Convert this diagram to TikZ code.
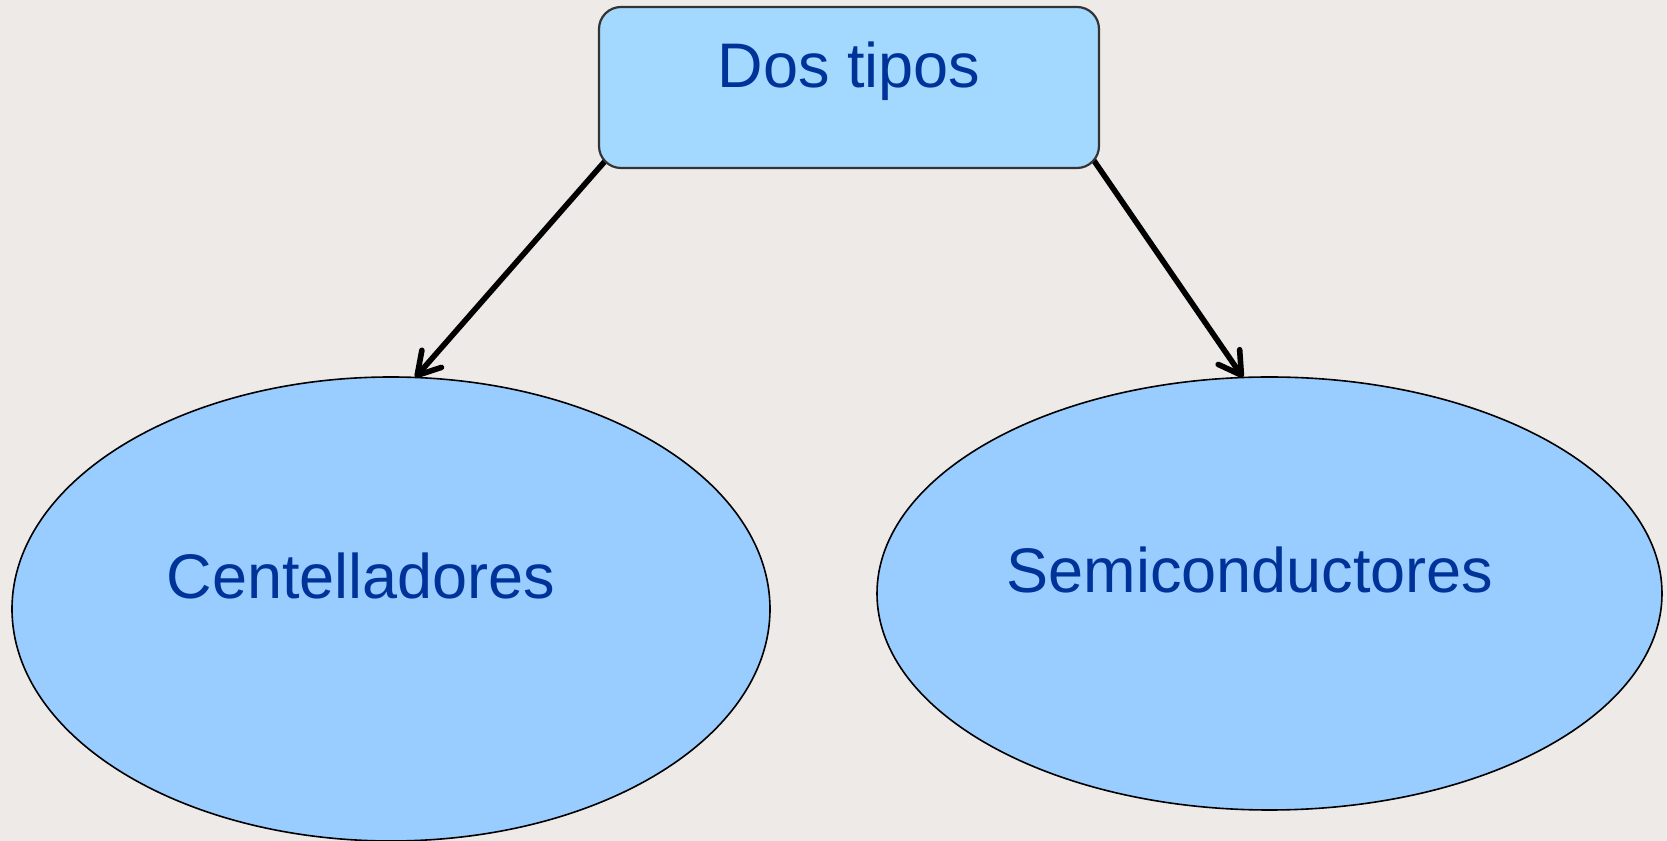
\documentclass[tikz,border=0pt]{standalone}
\usepackage{fontspec}
\setmainfont{Liberation Sans}
\usetikzlibrary{arrows.meta,shapes.geometric,backgrounds}
\definecolor{paper}{HTML}{EEEAE7}
\definecolor{boxblue}{HTML}{A3D8FF}
\definecolor{ovalblue}{HTML}{99CCFF}
\definecolor{inkblue}{HTML}{003399}
\tikzset{
	tipo/.style={rectangle,rounded corners=11pt,draw=black!80,line width=1.1pt,fill=boxblue,
		minimum width=250pt,minimum height=80.5pt,text height=20pt,text depth=20pt,
		inner sep=0pt,outer sep=0pt,text=inkblue,font=\fontsize{31.5}{36}\selectfont},
	clase/.style={ellipse,draw=black,line width=0.8pt,fill=ovalblue,inner sep=0pt,outer sep=0pt},
	rotulo/.style={text=inkblue,font=\fontsize{31.5}{36}\selectfont,anchor=base,inner sep=0pt},
	flecha/.style={line width=2.8pt,line cap=round,-{Straight Barb[length=11pt,width=13pt,round]}}
}
\begin{document}
\begin{tikzpicture}[x=1pt,y=1pt]
			\useasboundingbox (0,0) rectangle (833.5,420.5);
			\node[clase,minimum width=379pt,minimum height=232pt] (cent) at (195.5,116) {};
			\node[clase,minimum width=392.5pt,minimum height=216.5pt] (semi) at (634.75,123.75) {};
			\node[tipo] (dos) at (424.5,376.75) {Dos tipos};
			\node[rotulo] (centtxt) at (180.5,121.2) {Centelladores};
			\node[rotulo] (semitxt) at (625,124) {Semiconductores};
			\begin{pgfonlayer}{background}
				\fill[paper] (0,0) rectangle (833.5,420.5);
				\draw[flecha,shorten <=-14pt] (dos.south west) -- (cent.84);
				\draw[flecha,shorten <=-14pt] (dos.south east) -- (semi.97);
			\end{pgfonlayer}
		\end{tikzpicture}
\end{document}
